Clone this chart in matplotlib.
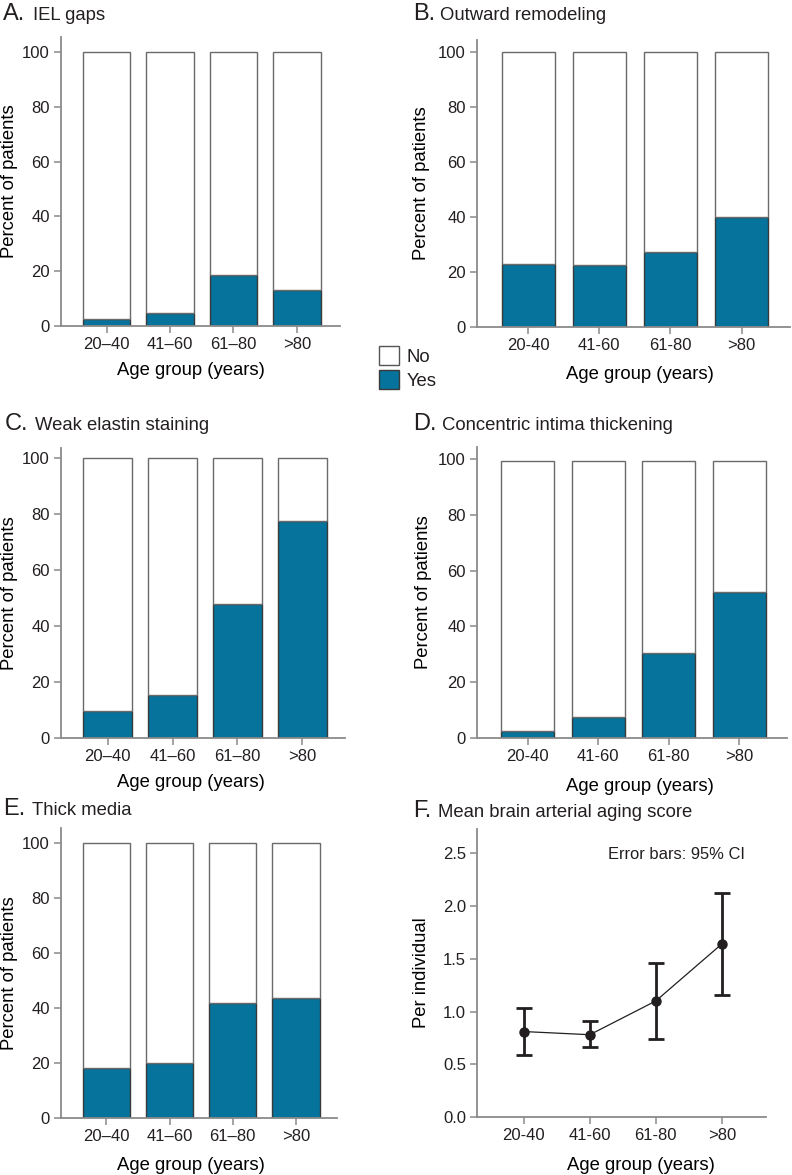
import matplotlib
matplotlib.use('Agg')
import matplotlib.pyplot as plt
from matplotlib.patches import Patch

plt.rcParams['font.family'] = ['Liberation Sans', 'DejaVu Sans']
plt.rcParams['text.color'] = '#231f20'

###---data---###
groups_dash = ['20\u201340', '41\u201360', '61\u201380', '>80']
groups_hyph = ['20-40', '41-60', '61-80', '>80']

iel_yes = [2.4, 4.9, 18.6, 13.1]
outward_yes = [22.8, 22.4, 27.2, 39.9]
elastin_yes = [9.6, 15.4, 47.7, 77.6]
intima_yes = [2.6, 7.5, 30.4, 52.3]
media_yes = [18.1, 20.1, 41.7, 43.5]
totals = [100, 100, 100, 100]
intima_totals = [99.3, 99.3, 99.3, 99.3]

score_mean = [0.81, 0.78, 1.10, 1.64]
score_lo = [0.59, 0.66, 0.74, 1.16]
score_hi = [1.03, 0.91, 1.46, 2.12]

TEAL = '#05739c'
SPINE = '#8a8a8a'
W, H = 792, 1175

fig = plt.figure(figsize=(W / 100, H / 100), dpi=100)


def px_axes(left, right, top, bottom):
    # axes box from pixel coordinates of the reference
    return fig.add_axes([left / W, 1 - bottom / H, (right - left) / W, (bottom - top) / H])


def style(ax, ticklabels):
    for s in ['top', 'right']:
        ax.spines[s].set_visible(False)
    for s in ['left', 'bottom']:
        ax.spines[s].set_color(SPINE)
        ax.spines[s].set_linewidth(1.3)
    ax.tick_params(axis='both', colors=SPINE, labelcolor='#231f20', labelsize=12,
                   length=5, width=1.1, pad=3)
    ax.set_xticks(range(len(ticklabels)))
    ax.set_xticklabels(ticklabels)


def bar_panel(ax, yes, total, labels, ymax, xlab_x, xlab_y, ylab_x, xright):
    x = list(range(len(yes)))
    no = [t - y for t, y in zip(total, yes)]
    ax.bar(x, yes, width=0.75, color=TEAL, edgecolor='#3a3a3a', linewidth=1.0)
    ax.bar(x, no, bottom=yes, width=0.75, color='white', edgecolor='#6a6a6a', linewidth=1.0)
    ax.set_ylim(0, ymax)
    ax.set_xlim(-0.72, xright)
    ax.set_yticks([0, 20, 40, 60, 80, 100])
    style(ax, labels)
    ax.set_xlabel('Age group (years)', fontsize=13.3)
    ax.set_ylabel('Percent of patients', fontsize=13.3)
    ax.xaxis.set_label_coords(xlab_x, xlab_y)
    ax.yaxis.set_label_coords(ylab_x, 0.5)


def panel_title(letter, text, xl, xt, ybase):
    fig.text(xl / W, 1 - ybase / H, letter, fontsize=17, va='baseline', color='#231f20')
    fig.text(xt / W, 1 - ybase / H, text, fontsize=13.3, va='baseline', color='#231f20')


axA = px_axes(61, 340, 37, 326)
bar_panel(axA, iel_yes, totals, groups_dash, 105.5, 0.466, -0.125, -0.154, 3.68)
panel_title('A.', 'IEL gaps', 3, 33, 20)

axB = px_axes(477, 790, 40, 327)
bar_panel(axB, outward_yes, totals, groups_hyph, 104.4, 0.52, -0.136, -0.150, 3.68)
panel_title('B.', 'Outward remodeling', 413, 440, 20)

axC = px_axes(61, 345, 448, 738)
bar_panel(axC, elastin_yes, totals, groups_dash, 103.6, 0.458, -0.124, -0.151, 3.66)
panel_title('C.', 'Weak elastin staining', 5, 35, 430)

axD = px_axes(477, 787, 447, 738)
bar_panel(axD, intima_yes, intima_totals, groups_hyph, 104.3, 0.526, -0.136, -0.145, 3.68)
panel_title('D.', 'Concentric intima thickening', 413, 442, 430)

axE = px_axes(61, 337, 828, 1118)
bar_panel(axE, media_yes, totals, groups_dash, 105.5, 0.471, -0.134, -0.156, 3.65)
panel_title('E.', 'Thick media', 3, 32, 815)

# F: mean score with 95% CI
axF = px_axes(477, 766, 829, 1117)
xf = list(range(len(score_mean)))
err_lo = [m - l for m, l in zip(score_mean, score_lo)]
err_hi = [h - m for m, h in zip(score_mean, score_hi)]
axF.plot(xf, score_mean, color='#231f20', linewidth=0.9)
axF.errorbar(xf, score_mean, yerr=[err_lo, err_hi], fmt='o', color='#231f20',
             markersize=6.5, elinewidth=2, capsize=6, capthick=2)
axF.set_ylim(0, 2.73)
axF.set_xlim(-0.71, 3.67)
axF.set_yticks([0, 0.5, 1.0, 1.5, 2.0, 2.5])
axF.set_yticklabels(['0.0', '0.5', '1.0', '1.5', '2.0', '2.5'])
style(axF, groups_hyph)
axF.set_xlabel('Age group (years)', fontsize=13.3)
axF.set_ylabel('Per individual', fontsize=13.3)
axF.xaxis.set_label_coords(0.567, -0.139)
axF.yaxis.set_label_coords(-0.163, 0.5)
axF.text(0.69, 0.91, 'Error bars: 95% CI', transform=axF.transAxes, fontsize=11.9,
         ha='center', va='center')
panel_title('F.', 'Mean brain arterial aging score', 413, 438, 817)

# shared legend between A and B
handles = [Patch(facecolor='white', edgecolor='#555555', linewidth=1.0, label='No'),
           Patch(facecolor=TEAL, edgecolor='#3a3a3a', linewidth=1.0, label='Yes')]
fig.legend(handles=handles, loc='upper left', bbox_to_anchor=(379 / W, 1 - 346 / H),
           frameon=False, fontsize=13.3, handlelength=1.1, handleheight=1.2,
           handletextpad=0.4, labelspacing=0.25, borderpad=0, borderaxespad=0)

fig.savefig('out.png', dpi=100)
